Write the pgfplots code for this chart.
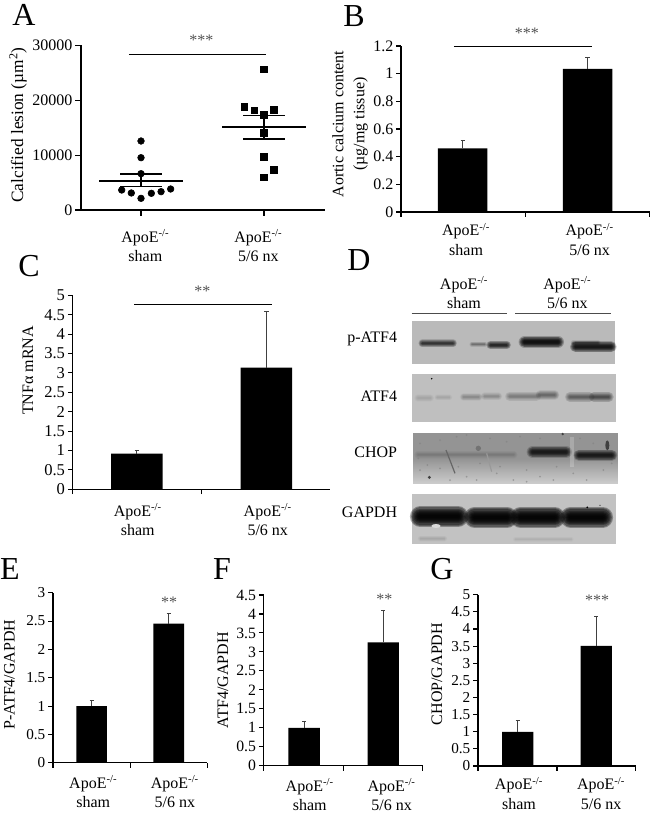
\documentclass[border=0pt]{standalone}
\usepackage{pgfplots}
\pgfplotsset{compat=1.18}
\usepackage{fontspec}
\setmainfont{Liberation Serif}
\usetikzlibrary{fadings}
\newcommand{\apo}{ApoE\textsuperscript{-/-}}
\pgfplotsset{
  panel/.style n args={6}{
    % x px, y0 px, width px, height px, tick font size, x label shift
    scale only axis, anchor=south west,
    at={(#1*0.75pt,-#2*0.75pt)}, width=#3*0.75pt, height=#4*0.75pt,
    axis lines*=left, axis line style={-, line width=1pt},
    clip=false, ymin=0, tick align=outside,
    major tick length=3.6pt, scaled y ticks=false,
    ytick style={line width=0.8pt,black},
    xtick style={draw=none},
    extra x tick style={xtick style={draw=black,line width=0.8pt}},
    yticklabel style={inner sep=0pt, xshift=-2pt, font=\fontsize{#5}{#5}\selectfont,
      /pgf/number format/assume math mode=true, /pgf/number format/fixed, /pgf/number format/1000 sep={}},
    xticklabel style={inner sep=0pt, align=center, yshift=#6, font=\fontsize{12}{14.5}\selectfont},
    xticklabels={{\apo\\sham},{\apo\\5/6 nx}},
    extra x tick labels={,,,},
    ylabel style={anchor=center, align=center, font=\fontsize{12}{15.75}\selectfont},
  },
  barplot/.style={ybar, bar width=0.397, bar shift=0pt, fill=black, draw=none,
    error bars/.cd, y dir=plus, y explicit,
    error bar style={line width=0.55pt, color=black!75},
    error mark options={rotate=90, mark size=1.6pt, line width=0.55pt, color=black!75}},
}
\newcommand{\stars}[3]{\node[text=black!68, font=\fontsize{12}{12}\selectfont, inner sep=0pt] at (axis cs:#1,#2) {#3};}
\newcommand{\letter}[3]{\node[font=\fontsize{24}{24}\selectfont, inner sep=0pt] at (#1*0.75pt,-#2*0.75pt) {#3};}
% a blurred gel band: stacked round strokes from x1 to x2, at y, half-height h, per-layer opacity
\newcommand{\band}[5]{%
  \foreach \w in {2.6,2.3,2.0,1.7,1.4,1.15,0.9,0.65,0.4}
    \draw[black, opacity=#5, line cap=round, line width=\w*#4*0.25pt] (#1+#4,#3)--(#2-#4,#3);}
\begin{document}
\begin{tikzpicture}
\useasboundingbox (0,0) rectangle (487.5pt,-611.25pt);
\letter{24}{15}{A}
\letter{354}{16}{B}
\letter{29}{266}{C}
\letter{359}{260}{D}
\letter{10}{569}{E}
\letter{222}{569}{F}
\letter{442}{569}{G}

% ---------- A
\begin{axis}[panel={81}{210}{244}{164.7}{12}{-10pt},
  xmin=0.512, xmax=2.496, ymax=30000, ytick={0,10000,20000,30000},
  xtick={1.035,1.954}, extra x ticks={1,2},
  axis line style={-, line width=1.1pt},
  major tick length=4.2pt,
  ylabel={Calcified lesion (µm\textsuperscript{2})},
  ylabel style={at={(axis description cs:-0.258,0.516)}, font=\fontsize{13}{15}\selectfont}]
\addplot[only marks, mark=*, mark size=2.5pt, mark options={fill=black,draw=black}] coordinates {
 (1,12570)(1,9530)(1,6620)(0.843,3640)(0.921,3100)(1,2125)(1.084,3040)(1.163,3340)(1.241,3825)};
\addplot[only marks, mark=square*, mark size=2.5pt, mark options={fill=black,draw=black}] coordinates {
 (2,25630)(1.84,18760)(1.92,18160)(2.08,18220)(2,17300)(2,14090)(2,9720)(2.08,7350)(2,5950)};
\addplot[black, line width=1.1pt] coordinates {(0.661,5280)(1.339,5280)};
\addplot[black, line width=1.1pt] coordinates {(0.83,6560)(1.17,6560)};
\addplot[black, line width=1.1pt] coordinates {(0.83,4250)(1.17,4250)};
\addplot[black, line width=1.1pt] coordinates {(1,4250)(1,6560)};
\addplot[black, line width=1.1pt] coordinates {(1.661,15120)(2.339,15120)};
\addplot[black, line width=1.1pt] coordinates {(1.83,17190)(2.17,17190)};
\addplot[black, line width=1.1pt] coordinates {(1.83,12930)(2.17,12930)};
\addplot[black, line width=1.1pt] coordinates {(2,12930)(2,17190)};
\addplot[black, line width=0.6pt] coordinates {(0.902,28400)(2.02,28400)};
\stars{1.49}{31000}{***}
\end{axis}

% ---------- B
\begin{axis}[panel={401}{212}{249}{166}{12}{-4.5pt},
  xmin=0.506, xmax=2.50, ymax=1.2, ytick={0,0.2,0.4,0.6,0.8,1,1.2},
  xtick={1.027,2.017}, extra x ticks={0.506,1.5,2.5},
  ylabel={Aortic calcium content\\(µg/mg tissue)},
  ylabel style={at={(axis description cs:-0.205,0.53)}}]
\addplot[barplot] coordinates {(1,0.46) +- (0,0.058) (2,1.035) +- (0,0.08)};
\addplot[black, line width=0.6pt] coordinates {(0.93,1.198)(2.036,1.198)};
\stars{1.513}{1.295}{***}
\end{axis}

% ---------- C
\begin{axis}[panel={72.7}{489.3}{257.3}{194}{12.4}{-6.75pt},
  xmin=0.506, xmax=2.49, ymax=5, ytick={0,0.5,...,5},
  xtick={1.008,2.01}, extra x ticks={0.506,1.5},
  axis line style={-, line width=1.1pt},
  ylabel={TNFα mRNA},
  ylabel style={at={(axis description cs:-0.174,0.613)}}]
\addplot[barplot] coordinates {(1,0.92) +- (0,0.08) (2,3.136) +- (0,1.444)};
\addplot[black, line width=0.6pt] coordinates {(0.979,4.77)(2.039,4.77)};
\stars{1.506}{5.1}{**}
\end{axis}

% ---------- E
\begin{axis}[panel={53}{762.7}{154.3}{170}{11.4}{-6pt},
  xmin=0.498, xmax=2.50, ymax=3, ytick={0,0.5,...,3},
  xtick={1.02,2.08}, extra x ticks={0.498,1.5,2.5},
  ylabel={P-ATF4/GAPDH},
  ylabel style={at={(axis description cs:-0.282,0.518)}}]
\addplot[barplot] coordinates {(1,1) +- (0,0.1) (2,2.453) +- (0,0.182)};
\stars{2.004}{2.83}{**}
\end{axis}

% ---------- F
\begin{axis}[panel={263.7}{765.7}{159.6}{170.7}{11.8}{-6pt},
  xmin=0.488, xmax=2.506, ymax=4.5, ytick={0,0.5,...,4.5},
  xtick={1.07,2.106}, extra x ticks={0.488,1.5,2.5},
  ylabel={ATF4/GAPDH},
  ylabel style={at={(axis description cs:-0.255,0.50)}}]
\addplot[barplot] coordinates {(1,1) +- (0,0.18) (2,3.25) +- (0,0.84)};
\stars{2.013}{4.38}{**}
\end{axis}

% ---------- G
\begin{axis}[panel={478}{766}{157.7}{171.3}{11.4}{-4.5pt},
  xmin=0.496, xmax=2.50, ymax=5, ytick={0,0.5,...,5},
  xtick={1.017,2.06}, extra x ticks={0.496,1.5,2.5},
  ylabel={CHOP/GAPDH},
  ylabel style={at={(axis description cs:-0.26,0.537)}}]
\addplot[barplot] coordinates {(1,1) +- (0,0.33) (2,3.51) +- (0,0.86)};
\stars{2.01}{4.84}{***}
\end{axis}

% ---------- D (western blot photograph, approximated)
\begin{scope}[shift={(255pt,-187.5pt)},x=0.25pt,y=-0.25pt,
  lab/.style={font=\fontsize{12}{14.5}\selectfont, inner sep=0pt, align=center}]
\node[lab] at (372,128) {\apo\\sham};
\node[lab] at (682,128) {\apo\\5/6 nx};
\draw[black!70, line width=0.9pt] (215,190)--(500,190);
\draw[black!70, line width=0.9pt] (525,190)--(812,190);
\foreach \yy/\tt in {268/p-ATF4,440/ATF4,607/CHOP,788/GAPDH}
  \node[lab, anchor=east] at (172,\yy) {\tt};
% p-ATF4
\fill[black!27] (217,213) rectangle (826,341);
\band{238}{348}{280}{9}{0.13}
\band{390}{440}{283}{6}{0.05}
\band{442}{510}{285}{10}{0.15}
\band{540}{668}{276}{14}{0.22}
\band{694}{826}{290}{13}{0.2}
\band{694}{780}{278}{6}{0.05}
% ATF4
\fill[black!25] (217,371) rectangle (828,516);
\band{225}{280}{444}{9}{0.012}
\band{285}{335}{442}{7}{0.012}
\band{362}{425}{441}{9}{0.03}
\band{425}{484}{439}{9}{0.03}
\band{498}{600}{439}{11}{0.045}
\band{590}{655}{435}{11}{0.06}
\band{678}{760}{441}{12}{0.07}
\band{750}{818}{441}{12}{0.09}
\fill[black] (275,386) circle (2.5);
% CHOP
\fill[black!42] (220,548) rectangle (833,703);
\fill[white, fill opacity=0.55, path fading=north] (220,625) rectangle (833,703);
\band{225}{530}{614}{9}{0.02}
\band{564}{692}{606}{14}{0.17}
\band{704}{828}{616}{13}{0.17}
\fill[white, fill opacity=0.2] (690,560) rectangle (702,650);
\draw[black!60, line width=0.9pt] (318,600)--(345,670);
\draw[black!40, line width=0.9pt] (440,610)--(455,665);
\fill[black!75] (802,586) ellipse (6 and 15);
\fill[black!75] (268,682) circle (5);
\fill[black!55] (415,595) circle (8);
\fill[black!75] (668,552) circle (4);
\foreach \a/\b in {240/660,262/645,300/655,355/650,380/680,420/640,470/670,520/690,560/660,600/680,650/650,700/670,740/690,790/660,815/640,240/580,300/570,350/560,380/555,450/565,500/575,540/560,600/565,720/565,760/580,235/625,480/650,560/695,640/690,330/690,410/690}
  \fill[black!50, fill opacity=0.6] (\a,\b) circle (3);
% GAPDH
\fill[black!24] (217,733) rectangle (828,882);
\band{217}{378}{800}{24}{0.32}
\band{380}{525}{802}{24}{0.32}
\band{518}{668}{802}{24}{0.32}
\band{668}{812}{802}{24}{0.32}
\band{235}{320}{866}{7}{0.012}
\band{520}{700}{868}{6}{0.008}
\fill[black!15] (288,828) ellipse (14 and 6);
\fill[black] (742,772) circle (3);
\fill[black!70] (780,766) circle (2);
\end{scope}
\end{tikzpicture}
\end{document}
